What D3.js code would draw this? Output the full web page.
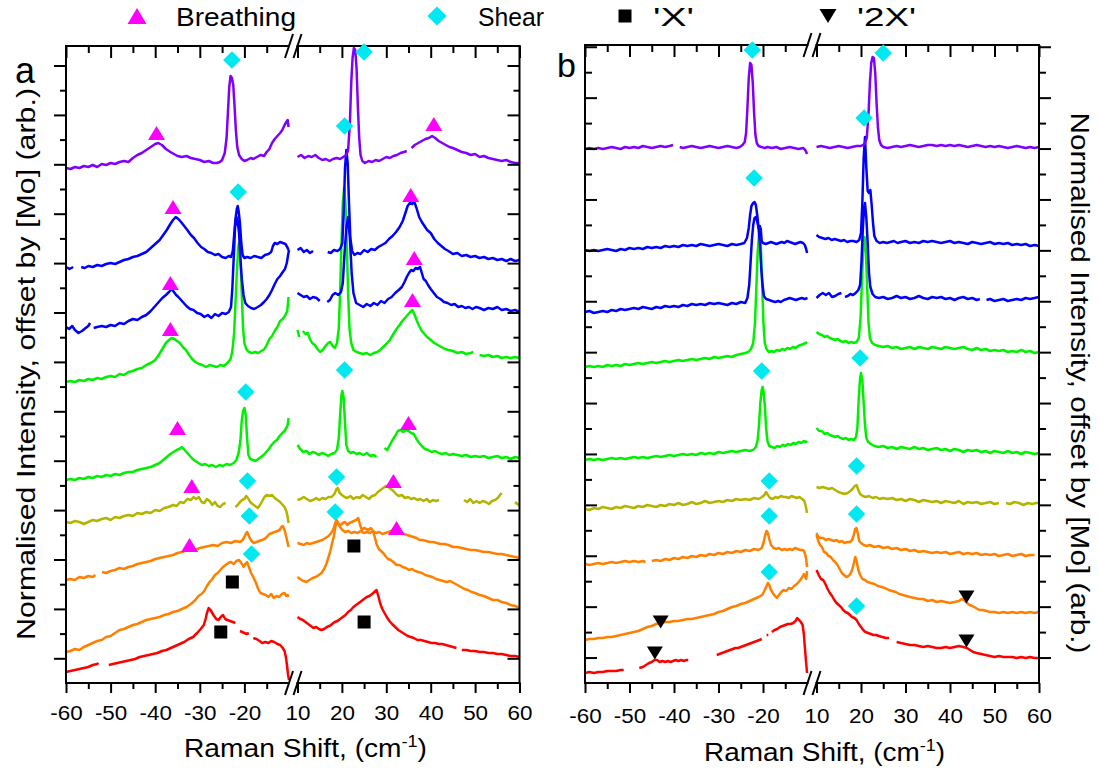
<!DOCTYPE html>
<html><head><meta charset="utf-8">
<script src="https://cdn.jsdelivr.net/npm/d3@7"></script>
<style>
body{margin:0;background:#fff}
svg{display:block}
text{font-family:"Liberation Sans",Arial,sans-serif;fill:#000}
</style>
</head><body>
<svg id="c" width="1099" height="772"></svg>
<script>
// ---------- tick labels ----------
const xMajorL = [-60,-50,-40,-30,-20];
const xMajorR = [10,20,30,40,50,60];
const xMinorL = [-55,-45,-35,-25,-15];
const xMinorR = [15,25,35,45,55];
const legendLabels = ["Breathing","Shear","'X'","'2X'"];

// ---------- panel a spectra [Raman shift cm-1, intensity arb.] ----------
const aPurpleL = [[-60,515],[-59,514],[-58,516],[-57,515],[-56,517],[-55,516],[-54,518],[-53,516],[-52,519],[-51,518],[-50,520],[-49,519],[-48,521],[-47,522],[-46,521],[-45,525],[-44,528],[-43,530],[-42,533],[-41,536],[-40,539],[-39.3,540],[-38.5,538],[-37.6,534],[-36.6,531],[-35.8,529],[-35,527],[-34,526],[-33,527],[-32,525],[-31,524],[-30,523],[-29,521],[-28,522],[-27,520],[-26.2,520],[-25.5,521],[-25,523],[-24.4,530],[-24,545],[-23.7,570],[-23.4,596],[-23.1,607],[-22.8,605],[-22.5,598],[-22.2,576],[-21.9,552],[-21.6,536],[-21.2,528],[-20.6,524],[-20,522],[-19.4,523],[-18.6,525],[-18,524],[-17.2,526],[-16.4,528],[-15.6,527],[-15,531],[-14.4,534],[-13.8,540],[-13.2,544],[-12.6,547],[-12,550],[-11.5,553],[-11,558],[-10.6,561],[-10.3,563],[-10.1,556]];
const aPurpleR = [[10,526],[10.8,528],[11.6,525],[12.4,527],[13.2,526],[14,528],[14.8,525],[15.6,523],[16.4,524],[17.2,522],[18,524],[18.8,525],[19.6,524],[20.3,526],[21,528],[21.4,533],[21.8,560],[22.1,600],[22.4,625],[22.7,635],[23,633],[23.3,615],[23.6,576],[23.9,545],[24.2,528],[24.6,522],[25.2,520],[26,522],[26.8,521],[27.6,523],[28.4,522],[29.2,524],[30,526],[30.8,525],[31.6,527],[32.4,528],[33.2,530],[34,531],[34.6,532],[34.9,null],[35.7,535],[36.4,538],[37.2,540],[38,542],[38.8,544],[39.6,545],[40.3,547],[41,545],[41.8,542],[42.6,540],[43.4,538],[44.2,536],[45,535],[46,533],[47,531],[48,530],[49,528],[50,529],[51,526],[52,527],[53,525],[54,524],[55,523],[56,522],[57,523],[58,521],[59,520],[60,520]];
const aBlue1L = [[-60,416],[-59.2,414],[-58.4,416],[-57.6,null],[-56.6,416],[-55.8,415],[-55,417],[-54,416],[-53,418],[-52,417],[-51,419],[-50,420],[-49,419],[-48,421],[-47,423],[-46,424],[-45,426],[-44,427],[-43,429],[-42,431],[-41,435],[-40,439],[-39,443],[-38.2,448],[-37.4,453],[-36.6,459],[-36,463],[-35.4,466],[-34.8,464],[-34.2,461],[-33.5,457],[-32.8,453],[-32,448],[-31.3,445],[-30.5,440],[-29.7,436],[-29,434],[-28.2,431],[-27.4,430],[-26.6,428],[-25.8,429],[-25,426],[-24.2,425],[-23.5,427],[-23,426],[-22.6,432],[-22.3,448],[-22,464],[-21.7,474],[-21.5,477],[-21.3,472],[-21,460],[-20.7,440],[-20.4,428],[-20,425],[-19.4,426],[-18.6,425],[-17.8,427],[-17,426],[-16.2,425],[-15.4,428],[-14.6,429],[-14,431],[-13.6,437],[-13.2,440],[-12.6,439],[-12,441],[-11.4,440],[-10.8,439],[-10.4,436],[-10.1,433]];
const aBlue1R = [[10,433],[10.7,435],[11.4,431],[12.1,433],[12.8,430],[13.5,432],[14.2,null],[16.8,431],[17.5,430],[18.2,433],[19,432],[19.6,434],[20.1,440],[20.4,470],[20.7,515],[21,533],[21.3,520],[21.6,480],[21.9,445],[22.3,432],[22.8,428],[23.5,430],[24.2,429],[25,433],[25.8,431],[26.6,434],[27.4,433],[28.2,436],[29,438],[29.8,440],[30.6,444],[31.4,447],[32.2,451],[33,456],[33.7,462],[34.3,470],[34.8,477],[35.3,480],[35.8,479],[36.3,481],[36.8,475],[37.4,466],[38,461],[38.6,457],[39.2,453],[40,450],[40.8,444],[41.6,440],[42.4,437],[43.2,434],[44,432],[45,429],[46,430],[47,427],[48,428],[49,426],[50,427],[51,425],[52,426],[53,424],[54,425],[55,423],[56,424],[57,422],[58,424],[59,422],[60,423]];
const aBlue2L = [[-60,356],[-59.3,354],[-58.6,357],[-58,353],[-57.2,350],[-56.4,352],[-55.6,355],[-55,357],[-54.6,360],[-54.3,null],[-53.8,355],[-53,356],[-52,357],[-51,356],[-50,358],[-49,357],[-48,360],[-47,359],[-46,362],[-45,364],[-44,363],[-43,366],[-42,368],[-41,372],[-40,377],[-39.2,381],[-38.4,385],[-37.6,388],[-36.9,391],[-36.3,394],[-35.8,391],[-35.3,388],[-34.8,386],[-34.2,383],[-33.6,380],[-33,377],[-32.2,374],[-31.4,373],[-30.6,370],[-29.8,369],[-29,366],[-28.2,368],[-27.4,365],[-26.6,369],[-25.8,367],[-25,370],[-24.2,369],[-23.5,371],[-23,376],[-22.7,395],[-22.4,425],[-22.1,455],[-21.8,466],[-21.5,462],[-21.2,450],[-20.9,425],[-20.6,405],[-20.2,388],[-19.8,380],[-19.2,377],[-18.5,375],[-17.8,374],[-17,376],[-16.3,378],[-15.6,381],[-15,384],[-14.4,388],[-13.8,393],[-13.2,399],[-12.6,404],[-12,407],[-11.4,411],[-10.9,414],[-10.5,420],[-10.2,428],[-10,433]];
const aBlue2R = [[10,390],[10.7,388],[11.4,386],[12.1,387],[12.8,384],[13.5,386],[14.3,385],[15,382],[15.6,null],[16.7,381],[17.3,383],[17.9,388],[18.5,390],[19.2,388],[19.8,391],[20.2,400],[20.6,430],[21,455],[21.4,466],[21.8,445],[22.2,410],[22.6,390],[23.2,380],[24,378],[24.8,376],[25.6,379],[26.4,377],[27.2,380],[28,378],[28.8,382],[29.6,380],[30.4,384],[31.2,386],[32,390],[32.8,393],[33.5,396],[34.1,401],[34.6,406],[35.1,410],[35.6,413],[36.1,412],[36.6,415],[37.1,414],[37.6,416],[38,410],[38.4,404],[38.9,402],[39.4,398],[40,394],[40.7,390],[41.4,386],[42.2,384],[43,381],[43.8,380],[44.6,378],[45.4,379],[46.2,376],[47,377],[47.8,375],[48.6,376],[49.4,374],[50.2,376],[51,375],[52,373],[53,375],[54,374],[55,376],[56,373],[57,374],[58,372],[59,373],[60,371]];
const aGreen1L = [[-60,301],[-59,302],[-58,301],[-57,303],[-56,302],[-55,304],[-54,303],[-53,305],[-52,304],[-51,306],[-50,307],[-49,306],[-48,309],[-47,308],[-46,311],[-45,312],[-44,314],[-43,315],[-42,318],[-41,320],[-40,323],[-39.2,328],[-38.4,334],[-37.6,340],[-36.9,343],[-36.3,345],[-35.7,344],[-35.1,342],[-34.5,340],[-33.8,336],[-33.1,333],[-32.4,328],[-31.7,324],[-31,321],[-30.2,319],[-29.4,318],[-28.6,316],[-27.8,318],[-27,317],[-26.2,316],[-25.4,318],[-24.6,317],[-23.8,320],[-23.1,324],[-22.7,332],[-22.3,350],[-22,380],[-21.7,410],[-21.4,435],[-21.2,440],[-20.9,425],[-20.6,390],[-20.3,355],[-20,340],[-19.6,334],[-19,331],[-18.3,330],[-17.6,331],[-16.9,330],[-16.2,332],[-15.5,334],[-15,338],[-14.4,344],[-13.8,347],[-13.2,352],[-12.6,356],[-12,362],[-11.4,364],[-10.8,368],[-10.4,372],[-10.1,386]];
const aGreen1R = [[10,353],[10.4,346],[10.7,null],[11.2,352],[11.8,349],[12.3,350],[12.8,344],[13.3,340],[13.9,338],[14.5,334],[15.1,331],[15.7,333],[16.3,337],[16.9,340],[17.4,341],[17.9,337],[18.4,335],[18.9,340],[19.3,355],[19.6,390],[19.9,440],[20.2,480],[20.5,495],[20.8,480],[21.1,440],[21.4,390],[21.7,355],[22.1,340],[22.6,333],[23.3,331],[24,330],[24.8,329],[25.6,330],[26.4,328],[27.2,330],[28,331],[28.6,333],[29.3,336],[30,339],[30.8,343],[31.6,349],[32.3,354],[33,358],[33.6,362],[34.2,365],[34.8,368],[35.4,371],[35.9,373],[36.4,368],[36.9,362],[37.4,357],[38,352],[38.6,349],[39.2,346],[40,343],[40.8,340],[41.6,338],[42.4,336],[43.2,334],[44,333],[45,332],[46,330],[47,331],[48,329],[49,330],[49.6,331],[50,null],[51,328],[52,327],[53,328],[54,326],[55,327],[56,325],[57,326],[58,325],[59,326],[60,325]];
const aGreen2L = [[-60,203],[-59,204],[-58,203],[-57,205],[-56,204],[-55,206],[-54,205],[-53,207],[-52,206],[-51,208],[-50,207],[-49,209],[-48,208],[-47,210],[-46,211],[-45,211],[-44,213],[-43,214],[-42,215],[-41,216],[-40,218],[-39,220],[-38.2,223],[-37.4,226],[-36.6,229],[-35.9,231],[-35.2,233],[-34.6,234],[-34,236],[-33.4,233],[-32.8,230],[-32.2,227],[-31.6,224],[-31,222],[-30.3,220],[-29.6,218],[-28.8,219],[-28,217],[-27.2,218],[-26.4,216],[-25.6,218],[-24.8,217],[-24,219],[-23.2,218],[-22.4,220],[-21.8,223],[-21.3,230],[-20.9,242],[-20.6,262],[-20.3,272],[-20,275],[-19.7,268],[-19.4,245],[-19.1,228],[-18.7,224],[-18.1,223],[-17.5,222],[-16.9,224],[-16.3,226],[-15.7,228],[-15.1,231],[-14.5,234],[-13.9,238],[-13.3,241],[-12.7,243],[-12.1,247],[-11.5,250],[-11,252],[-10.6,255],[-10.3,258],[-10.1,265]];
const aGreen2R = [[10,238],[10.6,234],[11.3,231],[12,232],[12.7,229],[13.4,231],[14.1,230],[14.8,228],[15.5,230],[16.2,229],[16.9,227],[17.6,229],[18.3,230],[18.9,233],[19.3,245],[19.6,268],[19.9,288],[20.1,292],[20.4,285],[20.7,260],[21,238],[21.4,232],[22,230],[22.6,231],[23.3,229],[24,230],[24.8,228],[25.6,230],[26.4,227],[27.2,228],[27.8,226],[28.2,null],[29.6,235],[30.2,233],[30.8,238],[31.4,243],[32,247],[32.6,252],[33.2,253],[33.8,251],[34.4,253],[35,252],[35.6,250],[36.2,249],[36.8,244],[37.4,240],[38,237],[38.7,234],[39.4,233],[40.2,231],[41,232],[41.8,230],[42.6,229],[43.4,230],[44.2,228],[45,229],[46,228],[47,227],[48,228],[49,226],[50,227],[51,226],[52,227],[53,225],[54,226],[55,227],[56,225],[57,226],[58,224],[59,226],[60,225]];
const aOliveL = [[-60,161],[-59,160],[-58,162],[-57,161],[-56,159],[-55,161],[-54,163],[-53,162],[-52,164],[-51,165],[-50,163],[-49,166],[-48,165],[-47,167],[-46,168],[-45,167],[-44,170],[-43,169],[-42,171],[-41,170],[-40,173],[-39,172],[-38,175],[-37,176],[-36,178],[-35.2,177],[-34.4,181],[-33.6,180],[-32.8,184],[-32,183],[-31.4,186],[-30.8,184],[-30.2,186],[-29.6,181],[-29,180],[-28.4,184],[-27.8,182],[-27.2,178],[-26.6,181],[-26,177],[-25.4,176],[-24.8,179],[-24.2,180],[-23.9,null],[-22,176],[-21.5,178],[-21,181],[-20.5,183],[-20,184],[-19.6,187],[-19.2,185],[-18.7,181],[-18.2,179],[-17.6,177],[-17,175],[-16.5,178],[-16,182],[-15.5,186],[-15,188],[-14.4,187],[-13.8,188],[-13.2,185],[-12.6,183],[-12,181],[-11.4,178],[-11,176],[-10.6,172],[-10.3,166],[-10.1,160]];
const aOliveR = [[10,183],[10.7,184],[11.4,186],[12.1,184],[12.8,182],[13.5,183],[14.2,185],[14.9,183],[15.6,185],[16.3,184],[17,186],[17.7,186],[18.3,189],[18.8,194],[19.1,195],[19.5,190],[20,188],[20.6,186],[21.2,185],[21.9,187],[22.6,184],[23.3,186],[24,185],[24.7,188],[25.4,186],[26.1,184],[26.8,187],[27.5,188],[28.1,191],[28.7,193],[29.3,195],[29.9,197],[30.5,196],[31,194],[31.6,192],[32.2,189],[32.8,187],[33.5,188],[34.2,185],[34.9,186],[35.6,184],[36.3,185],[37,183],[37.7,184],[38.4,182],[39.1,184],[39.8,181],[40.5,183],[41.2,182],[41.9,183],[42.2,null],[47.5,183],[48.2,181],[48.9,184],[49.6,180],[50.3,182],[51,180],[51.7,182],[52.4,181],[53.1,179],[53.8,182],[54.5,183],[55.1,185],[55.6,188],[56,190],[56.2,null],[59,181],[59.5,179],[60,178]];
const aOrange1L = [[-60,103],[-59,104],[-58,103],[-57,106],[-56,105],[-55,107],[-54,106],[-53.4,108],[-53,null],[-51.9,111],[-51,110],[-50,112],[-49,113],[-48,115],[-47,114],[-46,116],[-45,117],[-44,119],[-43,120],[-42,121],[-41,122],[-40,124],[-39,125],[-38,126],[-37,127],[-36,128],[-35,130],[-34,131],[-33,133],[-32,134],[-31,133],[-30,135],[-29,136],[-28,137],[-27,138],[-26,137],[-25,140],[-24,141],[-23,140],[-22,142],[-21,141],[-20.4,143],[-20,146],[-19.7,149],[-19.4,151],[-19.1,148],[-18.8,145],[-18.4,142],[-17.9,140],[-17.3,141],[-16.7,142],[-16.1,143],[-15.5,144],[-15,146],[-14.4,149],[-13.8,150],[-13.2,151],[-12.6,152],[-12.1,153],[-11.7,156],[-11.4,157],[-11,153],[-10.6,146],[-10.3,140],[-10.1,136]];
const aOrange1R = [[10,140],[10.7,139],[11.4,138],[12.1,140],[12.8,139],[13.5,140],[14.2,141],[14.9,142],[15.6,143],[16.3,145],[17,147],[17.6,150],[18.1,154],[18.5,160],[18.8,163],[19.2,160],[19.6,156],[20.1,153],[20.7,151],[21.4,152],[22.1,150],[22.8,151],[23.5,150],[24.2,152],[24.9,150],[25.6,151],[26.3,150],[27,152],[27.7,150],[28.4,151],[29.1,149],[29.8,150],[30.5,151],[31.2,152],[31.9,153],[32.6,152],[33.3,151],[34,149],[34.7,148],[35.4,147],[36.1,146],[36.8,145],[37.5,143],[38.2,143],[39,142],[39.8,141],[40.6,141],[41.4,140],[42.2,139],[43,139],[44,138],[45,136],[46,136],[47,135],[48,134],[49,133],[50,133],[51,132],[52,131],[53,131],[54,130],[55,129],[56,129],[57,128],[58,127],[59,126],[60,125]];
const aOrange2L = [[-60,31],[-59,32],[-58,34],[-57,33],[-56,36],[-55,38],[-54,40],[-53,42],[-52,43],[-51,46],[-50,47],[-49,50],[-48,53],[-47,54],[-46,56],[-45,58],[-44,59],[-43,61],[-42,63],[-41,64],[-40,65],[-39,66],[-38,68],[-37,69],[-36,71],[-35,72],[-34,74],[-33,76],[-32,79],[-31,83],[-30.3,87],[-29.6,89],[-29,92],[-28.4,97],[-27.8,101],[-27.2,104],[-26.6,108],[-26,110],[-25.4,113],[-24.8,116],[-24.2,118],[-23.6,120],[-23,121],[-22.4,119],[-21.8,122],[-21.2,123],[-20.7,120],[-20.2,116],[-19.8,119],[-19.4,121],[-19,116],[-18.5,110],[-18,106],[-17.4,100],[-16.9,94],[-16.4,90],[-15.8,89],[-15.2,88],[-14.6,86],[-14,89],[-13.4,85],[-12.8,87],[-12.2,86],[-11.6,89],[-11,90],[-10.6,87],[-10.3,88],[-10.1,86]];
const aOrange2R = [[10,106],[10.6,104],[11.3,102],[12,101],[12.7,103],[13.4,105],[14.1,106],[14.8,108],[15.4,110],[16,114],[16.5,119],[17,126],[17.4,132],[17.8,140],[18.2,147],[18.6,158],[18.9,161],[19.3,158],[19.7,158],[20.2,160],[20.7,161],[21.2,158],[21.7,160],[22.2,161],[22.7,162],[23.2,163],[23.7,165],[24.1,158],[24.5,153],[25,155],[25.5,154],[26,153],[26.5,155],[27,152],[27.4,146],[27.8,139],[28.3,134],[28.8,132],[29.3,130],[29.8,127],[30.4,124],[31,123],[31.6,121],[32.3,118],[33,118],[33.7,116],[34.4,115],[35.1,113],[35.8,114],[36.5,112],[37.2,111],[38,110],[38.8,108],[39.6,107],[40.4,106],[41.2,104],[42,103],[42.8,102],[43.6,101],[44.4,102],[45.2,100],[46,98],[46.8,96],[47.6,94],[48.4,93],[49.2,91],[50,90],[51,88],[52,87],[53,85],[54,83],[55,83],[56,81],[57,80],[58,78],[59,77],[60,75]];
const aRedL = [[-60,11],[-59,12],[-58,13],[-57,14],[-56,15],[-55,16],[-54,18],[-53,19],[-52.7,20],[-52.5,null],[-50.4,18],[-49.5,19],[-48.5,20],[-47.5,21],[-46.5,22],[-45.5,23],[-44.5,24],[-43.5,26],[-42.5,27],[-41.5,28],[-40.5,29],[-39.5,30],[-38.5,32],[-37.5,33],[-36.5,35],[-35.5,37],[-34.5,39],[-33.5,41],[-32.5,44],[-31.5,46],[-30.6,50],[-29.8,54],[-29.1,58],[-28.7,64],[-28.4,70],[-28,75],[-27.6,73],[-27.2,70],[-26.8,67],[-26.3,64],[-25.8,63],[-25.3,66],[-24.8,68],[-24.3,64],[-23.8,63],[-23.2,62],[-22.6,61],[-22,60],[-21.7,null],[-21,52],[-20.5,51],[-20,50],[-19.5,49],[-19,50],[-18.6,null],[-18,45],[-17.3,44],[-16.6,42],[-16,40],[-15.3,41],[-14.6,40],[-14,42],[-13.3,41],[-12.6,39],[-12,38],[-11.4,35],[-11,32],[-10.7,26],[-10.4,16],[-10.2,8],[-10,3]];
const aRedR = [[10,66],[10.6,64],[11.2,63],[11.8,61],[12.4,59],[13,57],[13.6,55],[14.2,56],[14.8,54],[15.4,53],[16,54],[16.6,56],[17.2,57],[17.8,59],[18.4,61],[19,62],[19.6,64],[20.2,66],[20.8,68],[21.4,71],[22,73],[22.6,76],[23.2,78],[23.8,80],[24.4,82],[25,84],[25.6,86],[26.2,87],[26.8,89],[27.3,91],[27.8,93],[28.2,87],[28.6,80],[29.1,74],[29.6,70],[30.1,66],[30.7,62],[31.3,59],[32,56],[32.7,53],[33.4,51],[34.1,49],[34.8,47],[35.5,46],[36.2,45],[37,43],[37.8,43],[38.6,42],[39.4,41],[40.2,40],[41,40],[41.8,39],[42.6,39],[43.4,38],[44.2,37],[45,36],[45.8,35],[46.1,null],[47,33],[48,33],[49,32],[50,32],[51,31],[52,31],[53,30],[54,30],[55,29],[56,29],[57,28],[58,27],[59,27],[60,26]];

// ---------- panel b spectra ----------
const bPurpleL = [[-60,534],[-59,535],[-58,534],[-57,535],[-56,534],[-55,535],[-54,536],[-53,535],[-52,534],[-51,536],[-50,535],[-49,536],[-48,535],[-47,537],[-46,536],[-45,535],[-44,536],[-43,537],[-42,536],[-41,537],[-40.2,538],[-40,null],[-38.7,536],[-38,535],[-37,536],[-36,537],[-35,536],[-34,535],[-33,536],[-32,537],[-31,536],[-30,535],[-29,536],[-28,537],[-27,536],[-26,535],[-25.2,536],[-24.6,538],[-24.1,541],[-23.8,550],[-23.5,575],[-23.2,605],[-22.9,620],[-22.6,618],[-22.3,600],[-22,570],[-21.7,548],[-21.4,540],[-21,537],[-20.4,536],[-19.6,535],[-19,536],[-18,535],[-17,536],[-16,534],[-15,535],[-14,536],[-13,535],[-12,534],[-11,535],[-10.5,533],[-10.1,529]];
const bPurpleR = [[10,536],[11,537],[12,536],[13,535],[14,536],[15,537],[16,536],[17,535],[18,536],[19,537],[20,537],[20.8,539],[21.3,545],[21.7,570],[22,600],[22.3,620],[22.6,626],[22.9,625],[23.2,610],[23.5,580],[23.8,556],[24.1,543],[24.5,538],[25,536],[26,535],[27,536],[28,537],[29,536],[30,537],[31,538],[32,537],[33,536],[34,537],[35,538],[36,538],[37,537],[38,538],[39,537],[40,538],[41,537],[42,538],[43,537],[44,536],[45,537],[46,538],[47,537],[48,536],[49,537],[50,536],[51,537],[52,536],[53,535],[54,536],[55,537],[56,536],[57,535],[58,536],[59,535],[60,536]];
const bBlue1L = [[-60,433],[-59,432],[-58,433],[-57,432],[-56,433],[-55,434],[-54,433],[-53,432],[-52,434],[-51,433],[-50,435],[-49,434],[-48,435],[-47,434],[-46,436],[-45,435],[-44,436],[-43,435],[-42,437],[-41,436],[-40,437],[-39,436],[-38,438],[-37,437],[-36,438],[-35,437],[-34,439],[-33,438],[-32,437],[-31,438],[-30,439],[-29,438],[-28,437],[-27,439],[-26,438],[-25,439],[-24.2,440],[-23.6,445],[-23.2,455],[-22.9,468],[-22.6,477],[-22.2,480],[-21.9,481],[-21.6,478],[-21.3,468],[-21,455],[-20.7,457],[-20.5,454],[-20.3,442],[-20,440],[-19.4,439],[-18.8,440],[-18.2,441],[-17.6,440],[-17,439],[-16.4,440],[-15.8,441],[-15.2,440],[-14.6,442],[-14,441],[-13.4,440],[-12.8,439],[-12.2,440],[-11.6,441],[-11,440],[-10.6,438],[-10.3,434],[-10.1,430]];
const bBlue1R = [[10,448],[10.6,446],[11.3,445],[12,444],[12.7,445],[13.4,443],[14.1,444],[14.8,443],[15.5,442],[16.2,443],[16.9,441],[17.6,442],[18.3,442],[19,441],[19.6,443],[20,450],[20.3,480],[20.6,525],[20.9,546],[21.2,515],[21.5,492],[21.8,490],[22.1,493],[22.4,478],[22.7,460],[23,447],[23.5,442],[24.2,440],[25,441],[25.8,440],[26.6,441],[27.4,442],[28.2,440],[29,441],[30,442],[31,440],[32,441],[33,440],[34,442],[35,441],[36,442],[37,441],[38,440],[39,441],[40,442],[41,440],[42,441],[43,440],[44,439],[45,441],[46,440],[47,439],[48,440],[49,441],[50,439],[51,440],[52,439],[53,440],[54,438],[55,439],[56,438],[57,439],[58,437],[59,438],[60,437]];
const bBlue2L = [[-60,371],[-59,372],[-58,370],[-57,371],[-56,372],[-55,371],[-54,373],[-53,372],[-52,374],[-51,373],[-50,374],[-49,375],[-48,374],[-47,376],[-46,375],[-45,374],[-44,376],[-43,375],[-42,377],[-41,376],[-40,377],[-39,376],[-38,378],[-37,377],[-36,379],[-35,378],[-34,379],[-33,378],[-32,380],[-31,379],[-30,380],[-29,379],[-28,378],[-27,380],[-26,379],[-25,381],[-24,380],[-23.5,385],[-23.1,398],[-22.8,420],[-22.5,443],[-22.2,458],[-21.9,465],[-21.6,466],[-21.3,462],[-21,455],[-20.7,440],[-20.4,415],[-20.1,398],[-19.8,387],[-19.3,384],[-18.6,383],[-18,382],[-17.3,381],[-16.6,382],[-16,381],[-15.3,383],[-14.6,384],[-14,385],[-13.3,384],[-12.6,383],[-12,384],[-11.3,385],[-10.6,384],[-10,385]];
const bBlue2R = [[10,385],[10.7,388],[11.4,390],[12.1,388],[12.8,390],[13.5,386],[14.2,387],[14.9,389],[15.6,390],[15.9,null],[16.4,386],[17,387],[17.6,389],[18.2,388],[18.8,390],[19.4,393],[19.8,398],[20.1,420],[20.4,453],[20.7,476],[20.9,480],[21.2,465],[21.5,440],[21.8,410],[22.1,396],[22.6,389],[23.2,386],[24,385],[25,386],[26,384],[27,385],[28,387],[29,385],[30,386],[31,384],[32,385],[33,387],[34,385],[35,384],[36,386],[37,385],[38,386],[39,384],[40,385],[41,383],[42,385],[43,386],[44,384],[45,385],[46,383],[46.7,384],[47,null],[48.2,383],[49,384],[50,382],[51,383],[52,384],[53,382],[54,383],[55,384],[56,383],[57,385],[58,384],[59,385],[60,386]];
const bGreen1L = [[-60,316],[-59,317],[-58,316],[-57,317],[-56,316],[-55,318],[-54,317],[-53,318],[-52,317],[-51,319],[-50,318],[-49,319],[-48,320],[-47,319],[-46,320],[-45,321],[-44,320],[-43,321],[-42,322],[-41,321],[-40,322],[-39,323],[-38,322],[-37,323],[-36,324],[-35,323],[-34,324],[-33,325],[-32,324],[-31,326],[-30,325],[-29,326],[-28,327],[-27,326],[-26,328],[-25,329],[-24,330],[-23.3,331],[-22.7,334],[-22.2,340],[-21.8,360],[-21.5,395],[-21.2,430],[-20.9,448],[-20.7,452],[-20.5,440],[-20.2,400],[-19.9,360],[-19.6,340],[-19.2,334],[-18.7,331],[-18.1,332],[-17.5,331],[-16.9,333],[-16.3,332],[-15.7,334],[-15.1,333],[-14.5,335],[-13.9,334],[-13.3,336],[-12.7,335],[-12.1,337],[-11.5,338],[-10.9,339],[-10.4,340],[-10.1,341]];
const bGreen1R = [[10,351],[10.6,349],[11.2,348],[11.8,346],[12.4,347],[13,345],[13.6,344],[14.2,343],[14.8,344],[15.4,342],[16,341],[16.6,342],[17.2,340],[17.8,341],[18.4,340],[19,341],[19.5,345],[19.9,365],[20.2,400],[20.5,435],[20.8,446],[21.1,430],[21.4,395],[21.7,360],[22,345],[22.5,340],[23.2,338],[24,337],[25,336],[26,337],[27,335],[28,336],[29,334],[30,335],[31,336],[32,334],[33,336],[34,335],[35,334],[36,336],[37,335],[38,334],[39,336],[40,335],[41,334],[42,335],[43,336],[44,334],[45,333],[46,335],[47,333],[48,334],[49,332],[50,333],[51,332],[52,333],[53,331],[54,332],[55,331],[56,333],[57,331],[58,332],[59,330],[60,331]];
const bGreen2L = [[-60,223],[-59,224],[-58,223],[-57,224],[-56,223],[-55,224],[-54,225],[-53,224],[-52,225],[-51,224],[-50,225],[-49,226],[-48,225],[-47,226],[-46,225],[-45,226],[-44,227],[-43,226],[-42,227],[-41,228],[-40,227],[-39,228],[-38,229],[-37,228],[-36,229],[-35,228],[-34,230],[-33,229],[-32,230],[-31,229],[-30,231],[-29,230],[-28,231],[-27,232],[-26,231],[-25,232],[-24,233],[-23,232],[-22.2,233],[-21.6,236],[-21.2,243],[-20.9,258],[-20.6,280],[-20.3,293],[-20.1,296],[-19.9,292],[-19.6,278],[-19.3,255],[-19,242],[-18.6,237],[-18,236],[-17.4,235],[-16.8,237],[-16.2,236],[-15.6,238],[-15,237],[-14.4,239],[-13.8,238],[-13.2,240],[-12.6,239],[-12,241],[-11.4,240],[-10.8,242],[-10.3,241],[-10.1,242]];
const bGreen2R = [[10,255],[10.6,252],[11.2,252],[11.8,249],[12.4,250],[13,248],[13.6,247],[14.2,246],[14.8,247],[15.4,245],[16,244],[16.6,245],[17.2,243],[17.8,244],[18.4,243],[18.9,246],[19.2,256],[19.5,285],[19.8,305],[20,310],[20.3,303],[20.6,280],[20.9,258],[21.2,245],[21.6,241],[22.2,239],[23,237],[24,236],[25,237],[26,235],[27,236],[28,234],[29,236],[30,235],[31,234],[32,236],[33,234],[34,235],[35,233],[36,234],[37,235],[38,233],[39,234],[40,232],[41,234],[42,233],[43,231],[44,233],[45,232],[46,233],[47,231],[48,232],[49,230],[50,232],[51,231],[52,230],[53,232],[54,230],[55,231],[56,229],[57,231],[58,230],[59,229],[60,230]];
const bOliveL = [[-60,174],[-59,173],[-58,175],[-57,174],[-56,176],[-55,175],[-54,174],[-53,176],[-52,175],[-51,177],[-50,176],[-49,175],[-48,177],[-47,176],[-46,178],[-45,177],[-44,176],[-43,178],[-42,177],[-41,179],[-40,178],[-39,180],[-38,178],[-37,179],[-36,181],[-35,179],[-34,180],[-33,182],[-32,180],[-31,181],[-30,182],[-29,181],[-28,183],[-27,182],[-26,184],[-25,183],[-24,184],[-23,183],[-22,185],[-21,184],[-20.2,186],[-19.7,188],[-19.3,191],[-18.9,188],[-18.4,185],[-17.8,184],[-17.2,186],[-16.6,185],[-16,187],[-15.4,186],[-14.8,186],[-14.2,185],[-13.6,187],[-13,186],[-12.4,185],[-11.8,186],[-11.2,184],[-10.7,182],[-10.4,177],[-10.1,170]];
const bOliveR = [[10,196],[10.7,195],[11.4,196],[12.1,195],[12.8,194],[13.5,195],[14.2,193],[14.9,191],[15.6,190],[16.3,189],[17,190],[17.6,192],[18.1,194],[18.6,197],[19,198],[19.4,193],[19.8,189],[20.4,187],[21,186],[21.8,187],[22.6,185],[23.4,186],[24.2,184],[25,185],[26,184],[27,185],[28,183],[29,184],[30,182],[31,184],[32,183],[33,181],[34,183],[35,182],[36,181],[37,182],[38,180],[39,182],[40,181],[41,180],[42,182],[43,179],[44,181],[45,180],[46,181],[47,179],[48,180],[49,181],[50,179],[51,180],[51.4,null],[52.6,180],[53.5,179],[54.5,181],[55.5,180],[56.5,178],[57.5,180],[58.5,179],[59.3,180],[60,180]];
const bOrange1L = [[-60,119],[-59,118],[-58,119],[-57,120],[-56,119],[-55,120],[-54,121],[-53,120],[-52,121],[-51,122],[-50,121],[-49,122],[-48,121],[-47,122],[-46.4,121],[-46,null],[-45,122],[-44,123],[-43,122],[-42,124],[-41,123],[-40,125],[-39,124],[-38,126],[-37,125],[-36,127],[-35,126],[-34,128],[-33,127],[-32,129],[-31,128],[-30,130],[-29,129],[-28,131],[-27,130],[-26,132],[-25,131],[-24,133],[-23,132],[-22,134],[-21,133],[-20.3,135],[-19.9,140],[-19.5,148],[-19.2,152],[-18.9,150],[-18.6,144],[-18.2,138],[-17.6,135],[-17,134],[-16.4,135],[-15.8,133],[-15.2,134],[-14.6,133],[-14,134],[-13.4,133],[-12.8,135],[-12.2,134],[-11.6,133],[-11,133],[-10.6,130],[-10.3,124],[-10.1,116]];
const bOrange1R = [[10,150],[10.4,146],[10.9,145],[11.5,145],[12.1,143],[12.7,144],[13.3,143],[13.9,142],[14.5,143],[15.1,141],[15.7,142],[16.3,140],[16.9,141],[17.5,141],[18,143],[18.4,148],[18.7,154],[19,155],[19.3,149],[19.6,142],[20,140],[20.6,138],[21.3,137],[22,138],[23,136],[24,137],[25,135],[26,136],[27,134],[28,135],[29,133],[30,134],[31,132],[32,133],[33,131],[34,132],[35,131],[36,130],[37,131],[38,130],[39,131],[40,129],[41,130],[42,131],[43,129],[44,130],[45,129],[46,130],[47,128],[48,129],[49,128],[50,129],[51,127],[52,128],[53,129],[54,127],[55,128],[56,129],[57,127],[58,128],[59,128]];
const bOrange2L = [[-60,43],[-59,44],[-58,44],[-57,45],[-56,45],[-55,46],[-54,46],[-53,47],[-52,48],[-51,49],[-50,50],[-49,51],[-48,52],[-47,54],[-46,56],[-45,57],[-44,59],[-43,60],[-42,61],[-41,61],[-40,62],[-39,62],[-38,63],[-37,64],[-36,64],[-35,65],[-34,66],[-33,67],[-32,68],[-31,69],[-30,71],[-29,72],[-28,74],[-27,76],[-26,77],[-25,79],[-24,80],[-23,82],[-22,84],[-21,86],[-20.2,88],[-19.7,92],[-19.2,97],[-18.9,100],[-18.6,98],[-18.2,93],[-17.8,90],[-17.3,87],[-16.9,85],[-16.4,88],[-15.9,91],[-15.4,93],[-14.8,92],[-14.2,95],[-13.6,94],[-13,97],[-12.4,99],[-11.8,102],[-11.3,105],[-10.8,109],[-10.5,106],[-10.3,104],[-10.1,112]];
const bOrange2R = [[10,148],[10.4,142],[10.8,138],[11.2,136],[11.7,131],[12.2,130],[12.7,127],[13.2,126],[13.7,123],[14.2,121],[14.7,118],[15.2,114],[15.7,110],[16.2,108],[16.7,106],[17.2,107],[17.6,109],[18,113],[18.4,120],[18.7,126],[19,122],[19.4,113],[19.8,108],[20.3,104],[20.9,103],[21.5,101],[22.2,100],[23,99],[23.8,97],[24.6,96],[25.4,95],[26.2,93],[27,92],[27.8,91],[28.6,89],[29.4,88],[30.2,87],[31,86],[32,85],[33,84],[34,84],[35,82],[36,83],[37,81],[38,82],[39,81],[40,80],[41,81],[42,82],[42.6,84],[43.2,83],[43.8,80],[44.4,78],[45,77],[45.8,75],[46.6,73],[47.4,73],[48.2,72],[49,71],[50,71],[51,70],[52,71],[53,70],[54,71],[55,70],[56,71],[57,70],[58,71],[59,70],[60,71]];
const bRedL = [[-60,10],[-59,11],[-58,10],[-57,11],[-56,11],[-55,12],[-54,12],[-53,12],[-52,13],[-51.3,13],[-51,null],[-47.8,15],[-47,16],[-46.3,18],[-45.6,20],[-45,21],[-44.4,23],[-43.8,23],[-43.2,21],[-42.6,22],[-42,21],[-41.4,22],[-40.8,21],[-40.2,22],[-39.6,23],[-39,22],[-38.4,23],[-37.8,22],[-37.2,23],[-36.8,23],[-36.5,null],[-30.4,28],[-29.8,29],[-29.2,30],[-28.6,31],[-28,32],[-27.4,33],[-26.8,34],[-26.2,35],[-25.6,35],[-25,36],[-24.4,37],[-23.8,38],[-23.2,39],[-22.6,40],[-22,41],[-21.4,42],[-20.8,43],[-20.3,44],[-20,null],[-19.2,48],[-18.8,48],[-18.5,null],[-18,51],[-17.4,53],[-16.8,54],[-16.2,56],[-15.6,57],[-15,58],[-14.4,59],[-13.8,59],[-13.2,60],[-12.7,62],[-12.3,65],[-11.9,63],[-11.5,61],[-11.1,58],[-10.8,48],[-10.6,36],[-10.3,20],[-10.1,10]];
const bRedR = [[10,113],[10.5,108],[11,104],[11.5,103],[12,99],[12.5,94],[13,90],[13.5,87],[14,83],[14.5,80],[15,78],[15.5,76],[16,73],[16.5,71],[17,70],[17.5,68],[18,66],[18.5,65],[19,63],[19.5,59],[20,56],[20.5,53],[21,51],[21.6,50],[22.2,49],[22.8,48],[23.4,48],[24,47],[24.8,46],[25.6,45],[26.3,45],[26.6,null],[28,41],[29,40],[30,39],[31,38],[32,38],[33,37],[34,36],[35,37],[36,36],[37,35],[38,35],[39,36],[40,35],[41,36],[42,37],[43,36],[43.8,35],[44.5,33],[45.2,31],[46,30],[47,29],[48,28],[49,27],[50,26],[51,27],[52,26],[53,26],[54,26],[55,25],[56,26],[57,25],[58,26],[59,25],[60,25]];

// ---------- peak markers ----------
const aBreathing = [[-39.7,550],[40.7,559],[-36,476],[35.5,488],[-36.6,400],[36.3,425],[-36.6,354],[35.9,383],[-35.0,255],[35,260],[-31.8,197],[31.6,202],[-32.3,138],[32.3,155]];
const aShear = [[-22.8,623],[25,631],[20.6,557],[-21.4,491],[-19.7,291],[20.6,313],[-19.3,202],[18.8,206],[-18.9,167],[18.5,171],[-18.4,129]];
const aXpeak = [[-22.7,101],[-25.3,51],[22.7,137],[25,61]];
const bShear = [[-22.4,633],[25,630],[20.7,565],[-22,505],[-20.3,312],[19.8,325],[-18.6,202],[19,217],[-18.6,167],[19,169],[-18.6,111],[19,77]];
const b2Xpeak = [[-43,61],[-44.3,30],[43.7,86],[43.7,42]];

const C = {purple:'#8000ff', blue:'#0000ff', green:'#00f000', olive:'#b4b400', orange:'#ff8000', red:'#ff0000', mag:'#ff00ff', cyan:'#00e8f0'};

const panels = [
  {id:'a', x0:66, xb0:289, xb1:297.5, x1:519.5, yt:46, yb:683, vmax:637, step:24.7, leftOut:true, labY:37, titleY:757, titleX:184, titleLen:243,
   traces:[['red',aRedL,aRedR],['orange',aOrange2L,aOrange2R],['orange',aOrange1L,aOrange1R],['olive',aOliveL,aOliveR],['green',aGreen2L,aGreen2R],['green',aGreen1L,aGreen1R],['blue',aBlue2L,aBlue2R],['blue',aBlue1L,aBlue1R],['purple',aPurpleL,aPurpleR]],
   tri:aBreathing, dia:aShear, sq:aXpeak, dn:[]},
  {id:'b', x0:585, xb0:807.5, xb1:816.5, x1:1039, yt:45, yb:683, vmax:638, step:25.45, leftOut:false, labY:40, titleY:761, titleX:704, titleLen:241,
   traces:[['red',bRedL,bRedR],['orange',bOrange2L,bOrange2R],['orange',bOrange1L,bOrange1R],['olive',bOliveL,bOliveR],['green',bGreen2L,bGreen2R],['green',bGreen1L,bGreen1R],['blue',bBlue2L,bBlue2R],['blue',bBlue1L,bBlue1R],['purple',bPurpleL,bPurpleR]],
   tri:[], dia:bShear, sq:[], dn:b2Xpeak}
];

const svg = d3.select('#c');

function triPath(w,h,down){ const s = down?-1:1; return `M0,${-s*h/2}L${w/2},${s*h/2}L${-w/2},${s*h/2}Z`; }
function symbols(g, data, X, y, kind){
  data.forEach(d=>{
    const cx = X(d[0]), cy = y(d[1]);
    if(kind==='tri') g.append('path').attr('d',triPath(17,14,false)).attr('transform',`translate(${cx},${cy})`).attr('fill',C.mag);
    if(kind==='dn') g.append('path').attr('d',triPath(16,13,true)).attr('transform',`translate(${cx},${cy})`).attr('fill','#000');
    if(kind==='dia') g.append('rect').attr('x',-6.2).attr('y',-6.2).attr('width',12.4).attr('height',12.4).attr('transform',`translate(${cx},${cy}) rotate(45)`).attr('fill',C.cyan);
    if(kind==='sq') g.append('rect').attr('x',-6.5).attr('y',-6.5).attr('width',13).attr('height',13).attr('transform',`translate(${cx},${cy})`).attr('fill','#000');
  });
}

panels.forEach(p=>{
  const g = svg.append('g');
  const xl = d3.scaleLinear().domain([-60,-10]).range([p.x0,p.xb0]);
  const xr = d3.scaleLinear().domain([10,60]).range([p.xb1,p.x1]);
  const y = d3.scaleLinear().domain([0,p.vmax]).range([p.yb,p.yt]);
  const X = v => v<0 ? xl(v) : xr(v);
  const line = d3.line().defined(d=>d[1]!=null).x(d=>X(d[0])).y(d=>y(d[1]));
  p.traces.forEach(t=>{
    [t[1],t[2]].forEach(seg=>{
      g.append('path').datum(seg).attr('d',line).attr('fill','none').attr('stroke',C[t[0]])
       .attr('stroke-width',2.5).attr('stroke-linejoin','round');
    });
  });

  const fmt = d=>String(d);
  const ax = (scale, vals, size, yPos, labels) => {
    const a = d3.axisBottom(scale).tickValues(vals).tickSize(size).tickFormat(labels?fmt:'');
    const gg = g.append('g').attr('transform',`translate(0,${yPos})`).call(a)
      .attr('font-size',20).attr('font-family','"Liberation Sans",Arial,sans-serif');
    gg.select('.domain').remove();
    gg.selectAll('line').attr('stroke','#000').attr('stroke-width',2);
    if(labels){
      gg.selectAll('text').attr('y',p.labY).attr('dy',null).style('font-size','20px')
        .each(function(){ const w = this.getComputedTextLength(); d3.select(this).attr('textLength', w*1.12).attr('lengthAdjust','spacingAndGlyphs'); });
    }
    return gg;
  };
  ax(xl,xMajorL,10,p.yb,true); ax(xr,xMajorR,10,p.yb,true);
  ax(xl,xMinorL,6,p.yb,false); ax(xr,xMinorR,6,p.yb,false);
  ax(xl,xMajorL,12,p.yt,false); ax(xr,xMajorR,12,p.yt,false);
  ax(xl,xMinorL,7,p.yt,false); ax(xr,xMinorR,7,p.yt,false);

  const ks = d3.range(1,40).filter(k=>k*p.step<=p.vmax+0.5);
  const yMaj = ks.filter(k=>k%2===1).map(k=>k*p.step);
  const yMin = ks.filter(k=>k%2===0).map(k=>k*p.step);
  const yax = (gen, vals, size, xPos)=>{
    const gg = g.append('g').attr('transform',`translate(${xPos},0)`).call(gen(y).tickValues(vals).tickSize(size).tickFormat(''));
    gg.select('.domain').remove();
    gg.selectAll('line').attr('stroke','#000').attr('stroke-width',2);
  };
  if(p.leftOut){
    yax(d3.axisLeft,yMaj,12,p.x0); yax(d3.axisLeft,yMin,6,p.x0);
    yax(d3.axisLeft,yMaj,12,p.x1); yax(d3.axisLeft,yMin,6,p.x1);
  } else {
    yax(d3.axisRight,yMaj,12,p.x0); yax(d3.axisRight,yMin,7,p.x0);
    yax(d3.axisRight,yMaj,12,p.x1); yax(d3.axisRight,yMin,7,p.x1);
  }

  const fr = g.append('g').attr('stroke','#000').attr('stroke-width',2).attr('stroke-linecap','square');
  fr.append('line').attr('x1',p.x0).attr('x2',p.x0).attr('y1',p.yt).attr('y2',p.yb);
  fr.append('line').attr('x1',p.x1).attr('x2',p.x1).attr('y1',p.yt).attr('y2',p.yb);
  [p.yt,p.yb].forEach(yy=>{
    fr.append('line').attr('x1',p.x0).attr('x2',p.xb0).attr('y1',yy).attr('y2',yy);
    fr.append('line').attr('x1',p.xb1).attr('x2',p.x1).attr('y1',yy).attr('y2',yy);
    [p.xb0,p.xb1].forEach(xx=>{
      fr.append('line').attr('x1',xx-4).attr('y1',yy+12).attr('x2',xx+4).attr('y2',yy-12).attr('stroke-linecap','butt');
    });
  });

  const mg = g.append('g');
  symbols(mg,p.tri,X,y,'tri'); symbols(mg,p.dia,X,y,'dia'); symbols(mg,p.sq,X,y,'sq'); symbols(mg,p.dn,X,y,'dn');

  const t = g.append('text').attr('x',p.titleX).attr('y',p.titleY).style('font-size','25px')
    .attr('textLength',p.titleLen).attr('lengthAdjust','spacingAndGlyphs');
  t.append('tspan').text('Raman Shift, (cm');
  t.append('tspan').attr('dy',-10).style('font-size','16px').text('-1');
  t.append('tspan').attr('dy',10).text(')');
});

svg.append('text').attr('x',15).attr('y',83).style('font-size','36px').text('a');
svg.append('text').attr('x',557).attr('y',77).style('font-size','34px').text('b');

svg.append('text').attr('transform','translate(35,364) rotate(-90)').attr('text-anchor','middle')
  .style('font-size','26px').attr('textLength',552).attr('lengthAdjust','spacingAndGlyphs')
  .text('Normalised Intensity, offset by [Mo] (arb.)');
svg.append('text').attr('transform','translate(1071,383) rotate(90)').attr('text-anchor','middle')
  .style('font-size','26px').attr('textLength',541).attr('lengthAdjust','spacingAndGlyphs')
  .text('Normalised Intensity, offset by [Mo] (arb.)');

const lg = svg.append('g');
const legX = [137,437,625,828], legT = [176,478,653,857], legLen = [120,66,41,59];
lg.append('path').attr('d',triPath(19,16,false)).attr('transform',`translate(${legX[0]},16)`).attr('fill',C.mag);
lg.append('rect').attr('x',-6.8).attr('y',-6.8).attr('width',13.6).attr('height',13.6).attr('transform',`translate(${legX[1]},16) rotate(45)`).attr('fill',C.cyan);
lg.append('rect').attr('x',-6.5).attr('y',-6.5).attr('width',13).attr('height',13).attr('transform',`translate(${legX[2]},16)`).attr('fill','#000');
lg.append('path').attr('d',triPath(17,14,true)).attr('transform',`translate(${legX[3]},16)`).attr('fill','#000');
legendLabels.forEach((s,i)=>lg.append('text').attr('x',legT[i]).attr('y',26).style('font-size','26px')
  .attr('textLength',legLen[i]).attr('lengthAdjust','spacingAndGlyphs').text(s));
</script>
</body></html>
